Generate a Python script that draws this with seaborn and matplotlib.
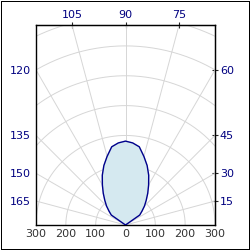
import numpy as np
import pandas as pd
import seaborn as sns
from matplotlib import pyplot as plt
from matplotlib.patches import Rectangle

# pattern (deg -> radius), symmetric around 90
angles = [30, 35, 40, 45, 50, 55, 60, 65, 70, 75, 80, 85, 90,
          95, 100, 105, 110, 115, 120, 125, 130, 135, 140, 145, 150]
radius = [0, 58, 72, 90, 108, 130, 155, 184, 212, 238, 266, 276, 281,
          276, 266, 238, 212, 184, 155, 130, 108, 90, 72, 58, 0]

x_ticks = [-300, -200, -100, 0, 100, 200, 300]
x_labels = ['300', '200', '100', '0', '100', '200', '300']
grid_rings = [100, 200, 300, 400, 500, 600, 700]
spoke_angles = [0, 15, 30, 45, 60, 75, 90, 105, 120, 135, 150, 165, 180]
top_angles = [105, 90, 75]
left_angles = [120, 135, 150, 165]
right_angles = [60, 45, 30, 15]

XMAX = 300
YMAX = 670
navy = '#000080'

sns.set_style('white')
plt.rcParams['font.family'] = ['DejaVu Sans']

df = pd.DataFrame({'angle': angles, 'r': radius})
th = np.deg2rad(df['angle'])
df['x'] = df['r'] * np.cos(th)
df['y'] = df['r'] * np.sin(th)

fig = plt.figure(figsize=(2.5, 2.5), dpi=100)
fig.patches.append(Rectangle((0.5 / 250, 0.8 / 250), 248.3 / 250, 248.3 / 250,
                             transform=fig.transFigure, fill=False,
                             edgecolor='black', lw=0.72, antialiased=False))
ax = fig.add_axes([0.144, 0.1, 0.716, 0.8])

# polar grid
t = np.linspace(0, np.pi, 400)
for rr in grid_rings:
    ax.plot(rr * np.cos(t), rr * np.sin(t), color='#d6d6d6', lw=0.7, zorder=1)
for a in spoke_angles:
    ax.plot([0, 1000 * np.cos(np.deg2rad(a))], [0, 1000 * np.sin(np.deg2rad(a))],
            color='#d6d6d6', lw=0.7, zorder=1)

ax.fill(df['x'], df['y'], color='#d5e9f0', zorder=2)
sns.lineplot(data=df, x='x', y='y', sort=False, estimator=None,
             color='#00008b', lw=1, ax=ax, zorder=3)

ax.set_xlim(-XMAX, XMAX)
ax.set_ylim(0, YMAX)
ax.set_xlabel('')
ax.set_ylabel('')
for s in ax.spines.values():
    s.set_color('black')
    s.set_linewidth(1)

ax.set_xticks(x_ticks)
ax.set_xticklabels(x_labels, color='#333333', fontsize=8)
ax.set_xticks(np.arange(-250, 300, 100), minor=True)
ax.tick_params(axis='x', which='both', direction='in', length=3, width=0.8, pad=3)

# angle labels on left (main y axis)
ax.set_yticks([XMAX * np.tan(np.deg2rad(180 - a)) for a in left_angles])
ax.set_yticklabels([str(a) for a in left_angles], color=navy, fontsize=8)
ax.tick_params(axis='y', direction='inout', length=5, width=0.8, pad=1)

right = ax.secondary_yaxis('right')
right.set_yticks([XMAX * np.tan(np.deg2rad(a)) for a in right_angles])
right.set_yticklabels([str(a) for a in right_angles], color=navy, fontsize=8)
right.tick_params(direction='inout', length=5, width=0.8, pad=1)

top = ax.secondary_xaxis('top')
top.set_xticks([YMAX / np.tan(np.deg2rad(a)) for a in top_angles])
top.set_xticklabels([str(a) for a in top_angles], color=navy, fontsize=8)
top.tick_params(direction='inout', length=5, width=0.8, pad=1)

fig.savefig('out.png', dpi=100, facecolor='white')
